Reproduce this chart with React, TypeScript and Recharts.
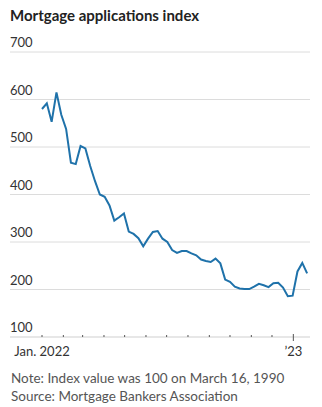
import React from "react";
import { LineChart, Line, XAxis, YAxis, ReferenceLine } from "recharts";

const title = "Mortgage applications index";
const note = "Note: Index value was 100 on March 16, 1990";
const source = "Source: Mortgage Bankers Association";

// weekly index values, first week of Jan. 2022 through Feb. 2023
const indexValues = [
  580, 592, 553, 615, 568, 538, 467, 464, 502, 497,
  460, 428, 400, 395, 377, 345, 352, 360, 322, 317,
  308, 291, 307, 321, 323, 307, 300, 283, 277, 281,
  281, 276, 272, 263, 260, 258, 265, 255, 221, 216,
  206, 202, 201, 201, 206, 212, 209, 205, 213, 214,
  204, 186, 187, 238, 256, 234,
];

const yTicks = [100, 200, 300, 400, 500, 600, 700];
// day of year at which each month starts (Jan. 2022 .. Jan. 2023)
const monthStartDays = [0, 31, 59, 90, 120, 151, 181, 212, 243, 273, 304, 334, 365];
const monthTickLabels: Record<number, string> = { 0: "Jan. 2022", 365: "\u201923" };

const data = indexValues.map((v, i) => ({ week: i, value: v }));
const xTicks = monthStartDays.map((d) => d / 7);

const FONT = "Lato, 'Noto Sans', sans-serif";

const makeYLabel = (text: number) => (props: any) => {
  const vb = props.viewBox || {};
  return (
    <text x={10} y={vb.y - 5} fontSize={13} fill="#333" fontFamily={FONT} textAnchor="start">
      {text}
    </text>
  );
};

const XTick = (props: any) => {
  const { x, y, index } = props;
  const day = monthStartDays[index];
  const label = monthTickLabels[day];
  const isYear = day === 365;
  return (
    <g>
      <line x1={x} x2={x} y1={isYear ? y - 3 : y - 2} y2={isYear ? y + 4 : y} stroke="#555" strokeWidth={1} />
      {label ? (
        <text x={x} y={y + 19} fontSize={13} fill="#333" fontFamily={FONT} textAnchor="middle">
          {label}
        </text>
      ) : null}
    </g>
  );
};

export default function App() {
  return (
    <div style={{ position: "absolute", left: 0, top: 0, width: 322, height: 407, background: "#fff", fontFamily: FONT }}>
      <div style={{ position: "absolute", left: 10, top: 5, fontSize: 15, fontWeight: 700, color: "#222", whiteSpace: "nowrap", lineHeight: "20px" }}>
        {title}
      </div>
      <div style={{ position: "absolute", left: 0, top: 0 }}>
        <LineChart width={322} height={365} data={data} margin={{ top: 52, right: 12, bottom: 0, left: 10 }}>
          <XAxis
            dataKey="week"
            type="number"
            domain={[-6.64, 55.6]}
            ticks={xTicks}
            interval={0}
            allowDataOverflow
            height={28}
            axisLine={false}
            tickLine={false}
            tickSize={0}
            tickMargin={0}
            tick={<XTick />}
          />
          <YAxis type="number" domain={[100, 700]} ticks={yTicks} width={0} hide />
          {yTicks.map((t) => (
            <ReferenceLine
              key={t}
              y={t}
              stroke={t === 100 ? "#cfcfcf" : "#dcdcdc"}
              strokeWidth={1}
              label={makeYLabel(t)}
            />
          ))}
          <Line
            type="linear"
            dataKey="value"
            stroke="#1f72aa"
            strokeWidth={2}
            dot={false}
            isAnimationActive={false}
          />
        </LineChart>
      </div>
      <div style={{ position: "absolute", left: 11, top: 369, fontSize: 13.5, color: "#555", whiteSpace: "nowrap", lineHeight: "18px" }}>
        <div>{note}</div>
        <div>{source}</div>
      </div>
    </div>
  );
}
